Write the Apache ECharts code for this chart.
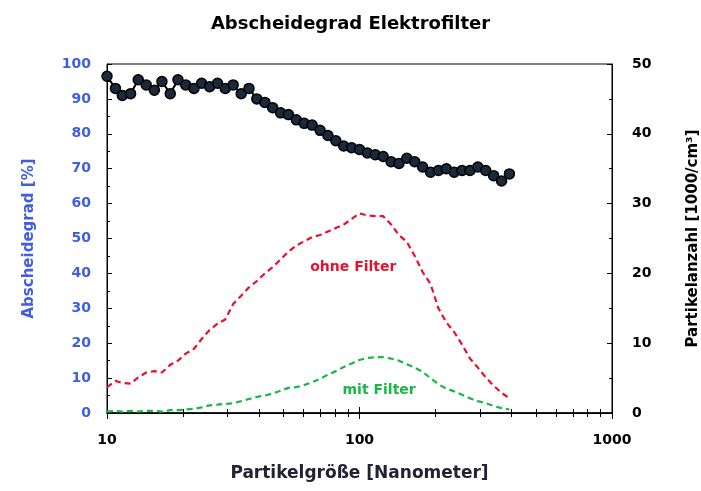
<!DOCTYPE html>
<html>
<head>
<meta charset="utf-8">
<script src="https://cdn.jsdelivr.net/npm/echarts@6/dist/echarts.min.js"></script>
<style>
html,body{margin:0;padding:0;background:#fff;}
#c{width:701px;height:491px;}
</style>
</head>
<body>
<div id="c"></div>
<script>
var sizes = [10.0, 10.8, 11.5, 12.4, 13.3, 14.3, 15.4, 16.5, 17.8, 19.1, 20.5, 22.1, 23.7, 25.5, 27.4, 29.4, 31.6, 34.0, 36.5, 39.2, 42.2, 45.3, 48.7, 52.3, 56.2, 60.4, 64.9, 69.8, 75.0, 80.6, 86.6, 93.1, 100, 107.5, 115.5, 124.1, 133.4, 143.3, 154.0, 165.5, 177.8, 191.1, 205.4, 220.7, 237.1, 254.8, 273.8, 294.3, 316.2, 339.8, 365.2, 392.4];
var efficiency = [96.5, 93, 91, 91.5, 95.5, 94, 92.5, 95, 91.5, 95.5, 94, 93, 94.5, 93.5, 94.5, 93, 94, 91.5, 93, 90, 89, 87.5, 86, 85.5, 84, 83, 82.5, 81, 79.5, 78, 76.5, 76, 75.5, 74.5, 74, 73.5, 72, 71.5, 73, 72, 70.5, 69, 69.5, 70, 69, 69.5, 69.5, 70.5, 69.5, 68, 66.5, 68.5];
var ohneFilter = [3.7, 4.6, 4.3, 4.2, 5.1, 5.8, 6.0, 5.8, 6.9, 7.5, 8.5, 9.2, 10.6, 11.9, 12.8, 13.4, 15.6, 16.8, 18.0, 18.9, 20.0, 20.9, 22.0, 23.1, 24.0, 24.6, 25.2, 25.5, 26.0, 26.5, 27.0, 27.8, 28.6, 28.3, 28.2, 28.2, 27.0, 25.5, 24.5, 22.5, 20.2, 18.5, 15.0, 13.0, 11.6, 9.8, 7.8, 6.5, 5.1, 3.9, 2.9, 2.1];
var mitFilter = [0.2, 0.3, 0.2, 0.3, 0.2, 0.3, 0.3, 0.2, 0.4, 0.4, 0.5, 0.6, 0.8, 1.1, 1.2, 1.3, 1.4, 1.7, 2.0, 2.3, 2.5, 2.8, 3.2, 3.6, 3.7, 4.0, 4.4, 4.9, 5.5, 6.0, 6.6, 7.1, 7.6, 7.9, 8.0, 8.0, 7.8, 7.5, 7.0, 6.5, 5.9, 5.0, 4.1, 3.5, 3.1, 2.6, 2.1, 1.7, 1.4, 1.0, 0.7, 0.5];
var titleText = "Abscheidegrad Elektrofilter";
var xName = "Partikelgröße [Nanometer]";
var yLeftName = "Abscheidegrad [%]";
var yRightName = "Partikelanzahl [1000/cm³]";
var labelOhne = "ohne Filter";
var labelMit = "mit Filter";

function pairs(ys){ return sizes.map(function(x,i){ return [x, ys[i]]; }); }

var blue = '#3f5fe0';
var font = 'DejaVu Sans';
var chart = echarts.init(document.getElementById('c'));
chart.setOption({
  animation:false,
  backgroundColor:'#fff',
  textStyle:{fontFamily:font},
  title:{text:titleText, left:'center', top:10, textStyle:{fontSize:18, fontWeight:'bold', color:'#000', fontFamily:font}},
  grid:{left:107, right:89, top:64, bottom:78, show:true, borderColor:'#000', borderWidth:1, containLabel:false, outerBoundsMode:'none'},
  xAxis:[{
    type:'log', logBase:10, min:10, max:1000, position:'bottom',
    name:xName, nameLocation:'middle', nameGap:52,
    nameTextStyle:{fontSize:17, fontWeight:'bold', color:'#223', fontFamily:font},
    axisLine:{lineStyle:{color:'#000', width:1.5}},
    axisTick:{inside:true, length:6, lineStyle:{color:'#000'}},
    minorTick:{show:true, splitNumber:9, length:4, lineStyle:{color:'#000'}},
    axisLabel:{fontSize:14, fontWeight:'bold', color:'#000', margin:20, formatter:function(v){return String(v);}},
    splitLine:{show:false}
  },{
    type:'log', logBase:10, min:10, max:1000, position:'top',
    axisLine:{lineStyle:{color:'#000'}},
    axisTick:{inside:true, length:6, lineStyle:{color:'#000'}},
    minorTick:{show:true, splitNumber:9, length:4, lineStyle:{color:'#000'}},
    axisLabel:{show:false}, splitLine:{show:false}
  }],
  yAxis:[{
    type:'value', min:0, max:100, interval:10, position:'left',
    name:yLeftName, nameLocation:'middle', nameGap:70, nameRotate:90,
    nameTextStyle:{fontSize:15, fontWeight:'bold', color:blue, fontFamily:font},
    axisLine:{show:true, lineStyle:{color:'#000'}},
    axisTick:{inside:true, length:5, lineStyle:{color:'#000'}},
    minorTick:{show:true, splitNumber:2, length:3, lineStyle:{color:'#000'}},
    axisLabel:{fontSize:14, fontWeight:'bold', color:blue, margin:16},
    splitLine:{show:false}
  },{
    type:'value', min:0, max:50, interval:10, position:'right',
    name:yRightName, nameLocation:'middle', nameGap:74, nameRotate:90,
    nameTextStyle:{fontSize:15, fontWeight:'bold', color:'#000', fontFamily:font},
    axisLine:{show:true, lineStyle:{color:'#000'}},
    axisTick:{inside:true, length:5, lineStyle:{color:'#000'}},
    minorTick:{show:true, splitNumber:2, length:3, lineStyle:{color:'#000'}},
    axisLabel:{fontSize:14, fontWeight:'bold', color:'#000', margin:20},
    splitLine:{show:false}
  }],
  series:[{
    name:'Abscheidegrad', type:'line', xAxisIndex:0, yAxisIndex:0,
    data:pairs(efficiency), symbol:'circle', symbolSize:10, showSymbol:true,
    lineStyle:{color:'#000', width:2}, itemStyle:{color:'#1a2a3a', borderColor:'#000', borderWidth:1.5}
  },{
    name:labelOhne, type:'line', xAxisIndex:0, yAxisIndex:1,
    data:pairs(ohneFilter), symbol:'none',
    lineStyle:{color:'#e8102a', width:2.2, type:[6,4]},
    markPoint:{symbol:'rect', symbolSize:1, itemStyle:{color:'transparent'},
      label:{show:true, formatter:labelOhne, color:'#e8102a', fontSize:14, fontWeight:'bold', fontFamily:font},
      data:[{coord:[94.5, 20.8]}]}
  },{
    name:labelMit, type:'line', xAxisIndex:0, yAxisIndex:1,
    data:pairs(mitFilter), symbol:'none',
    lineStyle:{color:'#18b848', width:2.2, type:[6,4]},
    markPoint:{symbol:'rect', symbolSize:1, itemStyle:{color:'transparent'},
      label:{show:true, formatter:labelMit, color:'#18b848', fontSize:14, fontWeight:'bold', fontFamily:font},
      data:[{coord:[119.6, 3.3]}]}
  }]
});
</script>
</body>
</html>
